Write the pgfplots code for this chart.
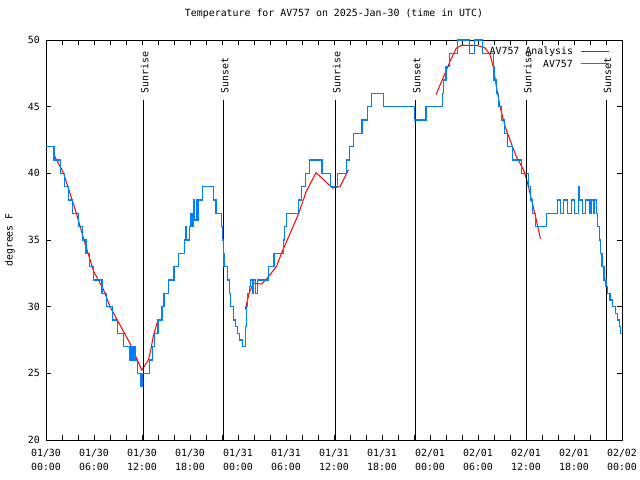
\documentclass[border=0pt]{standalone}
\usepackage{fontspec}
\setmainfont{DejaVu Sans Mono}
\usepackage{pgfplots}
\pgfplotsset{compat=1.18}
\definecolor{avblue}{RGB}{0,128,255}

\newcommand{\legline}[1]{\hspace{7bp}\tikz[baseline=-0.6ex]\draw[#1] (0bp,0bp) -- (28bp,0bp);}

\begin{document}
\begin{tikzpicture}[font=\fontsize{9.9bp}{14bp}\selectfont]
\useasboundingbox (0,0) rectangle (640bp,480bp);
\begin{axis}[
    at={(46bp,40bp)}, anchor=south west,
    scale only axis, width=576bp, height=400bp,
    xmin=0, xmax=72, ymin=20, ymax=50,
    xtick={0,6,...,72},
    xticklabels={
        {01/30\\00:00},{01/30\\06:00},{01/30\\12:00},{01/30\\18:00},
        {01/31\\00:00},{01/31\\06:00},{01/31\\12:00},{01/31\\18:00},
        {02/01\\00:00},{02/01\\06:00},{02/01\\12:00},{02/01\\18:00},
        {02/02\\00:00}},
    minor x tick num=2,
    ytick={20,25,...,50},
    tick align=inside,
    major tick length=5bp, minor tick length=5bp,
    tick style={black, line width=0.8bp},
    axis line style={line width=0.9bp},
    xticklabel style={align=center, inner sep=0pt, yshift=-9bp,
        font=\fontsize{9.9bp}{14bp}\selectfont},
    yticklabel style={inner sep=0pt, xshift=-6bp},
    /pgf/number format/assume math mode=true,
    ylabel={degrees F},
    ylabel style={at={(axis description cs:-0.0625,0.5)}, anchor=center},
    title={Temperature for AV757 on 2025-Jan-30 (time in UTC)},
    title style={at={(0.5,1)}, anchor=base, yshift=18bp, inner sep=0pt},
    unbounded coords=jump,
    legend style={at={(axis description cs:1,1)}, anchor=north east,
        xshift=-11bp, yshift=-5.5bp, draw=none, fill=none,
        inner sep=0pt, row sep=0bp, nodes={inner sep=1.7bp}},
    legend cell align=right,
    legend plot pos=none,
  ]

  % analysis fit
  \addplot[red, line width=1bp] coordinates {
    (0.9,41.5) (2.2,40.0) (3.8,37.0) (4.75,35.0) (5.9,32.75) (6.1,32.5)
    (7.2,31.25) (8.0,30.0) (10.5,27.25) (11.96,25.25) (12.8,26.0)
    (13.1,26.75) (13.4,27.75) (13.7,28.4) (13.95,28.9)
    (14.0,nan)
    (24.9,29.8) (25.4,31.0) (25.9,31.75) (26.96,31.7) (27.6,32.1)
    (28.8,33.0) (29.5,34.1) (31.6,37.0) (32.5,38.6) (33.75,40.05)
    (35.8,38.9) (36.75,39.0) (37.8,40.25)
    (38.0,nan)
    (48.75,45.9) (49.7,47.25) (50.5,48.4) (51.3,49.4) (51.96,49.6)
    (53.8,49.6) (54.9,49.4) (55.5,48.9) (55.9,48.0) (56.3,46.5)
    (56.75,45.0) (57.4,43.5) (58.0,42.5) (58.8,41.25) (59.7,40.25)
    (60.1,39.5) (60.7,38.0) (61.25,36.6) (61.8,35.1)
  };
  \addlegendentry{AV757 Analysis\legline{red, line width=1bp}}

  % sunrise / sunset markers
  \addplot[black, line width=1bp, forget plot] coordinates {(12.15,20) (12.15,45.5)};
  \addplot[black, line width=1bp, forget plot] coordinates {(22.15,20) (22.15,45.5)};
  \addplot[black, line width=1bp, forget plot] coordinates {(36.15,20) (36.15,45.5)};
  \addplot[black, line width=1bp, forget plot] coordinates {(46.15,20) (46.15,45.5)};
  \addplot[black, line width=1bp, forget plot] coordinates {(60.0,20) (60.0,45.5)};
  \addplot[black, line width=1bp, forget plot] coordinates {(70.0,20) (70.0,45.5)};
  \node[rotate=90, anchor=west, inner sep=0pt] at (axis cs:12.35,46.0) {Sunrise};
  \node[rotate=90, anchor=west, inner sep=0pt] at (axis cs:22.35,46.0) {Sunset};
  \node[rotate=90, anchor=west, inner sep=0pt] at (axis cs:36.35,46.0) {Sunrise};
  \node[rotate=90, anchor=west, inner sep=0pt] at (axis cs:46.35,46.0) {Sunset};
  \node[rotate=90, anchor=west, inner sep=0pt] at (axis cs:60.2,46.0) {Sunrise};
  \node[rotate=90, anchor=west, inner sep=0pt] at (axis cs:70.2,46.0) {Sunset};

  % observations
  \addplot[avblue, line width=1.2bp, const plot] coordinates {
    (0,42) (1.0,41) (1.8,40) (2.3,39) (2.8,38) (3.3,37) (4.1,36) (4.55,35)
    (5.0,34) (5.45,33) (5.9,32) (7.0,31) (7.6,30) (8.3,29) (8.9,28) (9.7,27)
    (10.5,26) (10.65,27) (10.85,26) (11.0,27) (11.15,26) (11.4,25) (11.8,24)
    (12.0,25) (12.9,26) (13.3,27) (13.6,28) (14.0,29) (14.5,30) (14.75,31)
    (15.3,32) (16.0,33) (16.6,34) (17.3,35) (17.4,36) (17.55,35) (17.9,36)
    (18.1,37) (18.25,36) (18.45,38) (18.6,36.5) (18.8,38) (18.95,36.5)
    (19.1,38) (19.6,39) (20.95,38)
    (21.25,37) (21.95,36) (22.05,35) (22.15,34) (22.25,33) (22.65,32)
    (22.9,31) (23.05,30) (23.4,29) (23.7,28.5) (23.9,28) (24.2,27.5)
    (24.6,27) (24.97,28.5) (25.05,30) (25.15,31) (25.45,31.5) (25.6,32)
    (25.85,31) (25.95,32) (26.2,31) (26.45,32) (27.8,33) (28.5,34)
    (29.7,35) (29.85,36) (30.1,37) (31.6,38) (31.9,39) (32.4,40) (32.9,41)
    (34.5,40) (35.6,39) (36.45,40) (37.6,41) (37.9,42) (38.4,43) (39.5,44)
    (40.2,45) (40.7,46) (42.2,45) (46.1,44) (47.5,45) (49.6,46) (49.7,47)
    (50.0,48) (50.4,49) (51.4,50) (52.9,49) (53.6,50) (54.6,49) (55.9,48)
    (56.0,47) (56.3,46) (56.6,45) (56.9,44) (57.3,43) (57.7,42) (58.3,41)
    (59.4,40) (60.3,39) (60.55,38) (60.85,37) (61.15,36) (62.6,37)
    (63.9,38) (64.3,37) (64.7,38) (65.15,37) (65.65,38) (66.05,37)
    (66.55,39) (66.7,38) (67.05,37) (67.45,38) (68.0,37) (68.2,38)
    (68.4,37) (68.6,38) (68.8,37) (68.95,36) (69.2,35) (69.35,34)
    (69.5,33) (69.75,32) (70.0,31.5) (70.2,31) (70.5,30.5) (70.8,30)
    (71.2,29.5) (71.4,29) (71.7,28.5) (71.85,28) (72,28)
  };
  \addlegendentry{AV757\legline{avblue, line width=1.2bp}}
\end{axis}
\end{tikzpicture}
\end{document}
